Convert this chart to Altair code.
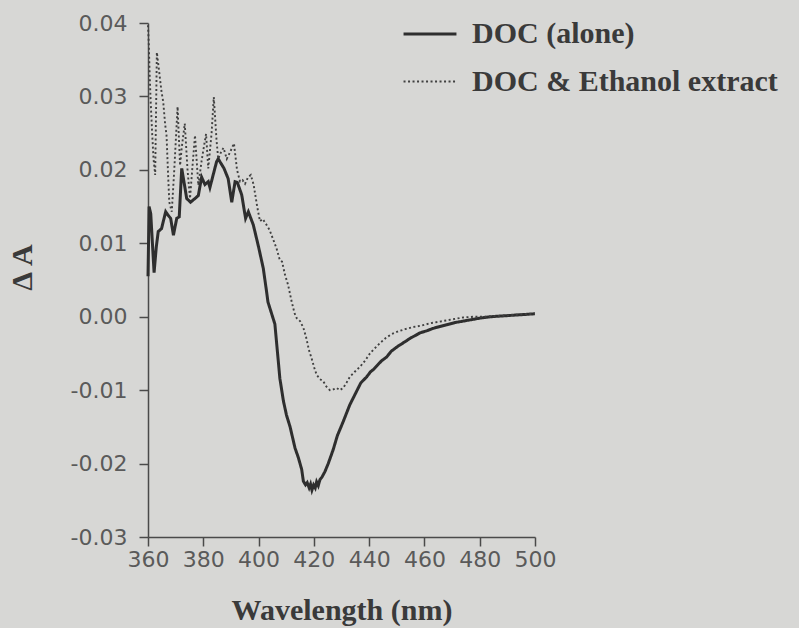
import altair as alt
import pandas as pd

# Difference absorbance spectra, wavelength in nm
series_names = ["DOC (alone)", "DOC & Ethanol extract"]

doc_wl = [360.0, 360.4, 361.0, 361.6, 362.2, 363.0, 363.7, 364.9, 366.4, 367.3,
          368.2, 369.2, 370.4, 371.3, 372.2, 373.0, 374.0, 375.4, 377.0, 378.2,
          379.4, 380.6, 381.8, 382.4, 384.8, 385.4, 387.5, 389.0, 390.3, 391.5,
          392.3, 393.9, 395.3, 396.3, 398.1, 400.0, 401.7, 402.9, 403.4, 405.9,
          407.0, 407.7, 409.0, 410.1, 411.4, 413.2, 414.4, 415.6, 416.2, 417.0,
          417.6, 418.3, 418.8, 419.3, 419.9, 420.5, 421.0, 421.6, 422.2, 423.0,
          424.0, 425.2, 427.0, 428.5, 430.6, 433.0, 435.0, 437.0, 439.1, 440.5,
          441.5, 443.0, 444.5, 446.3, 448.0, 450.5, 453.0, 455.0, 456.5, 458.4,
          461.0, 463.0, 465.0, 468.0, 471.0, 474.0, 477.0, 480.0, 484.0, 488.0,
          492.0, 496.0, 500.0]
doc_da = [0.0055, 0.0150, 0.0140, 0.0100, 0.0060, 0.0095, 0.0116, 0.0120, 0.0143, 0.0138,
          0.0134, 0.0111, 0.0134, 0.0136, 0.0202, 0.0184, 0.0161, 0.0156, 0.0161, 0.0165,
          0.0190, 0.0180, 0.0184, 0.0176, 0.0211, 0.0215, 0.0202, 0.0188, 0.0156, 0.0184,
          0.0183, 0.0166, 0.0134, 0.0143, 0.0125, 0.0095, 0.0066, 0.0034, 0.0020, -0.0010,
          -0.0055, -0.0084, -0.0115, -0.0134, -0.0150, -0.0179, -0.0192, -0.0208, -0.0224, -0.0229,
          -0.0226, -0.0233, -0.0228, -0.0236, -0.0229, -0.0233, -0.0225, -0.0230, -0.0222, -0.0218,
          -0.0211, -0.0200, -0.0181, -0.0162, -0.0143, -0.0120, -0.0105, -0.0090, -0.0082, -0.0075,
          -0.0072, -0.0066, -0.0060, -0.0055, -0.0047, -0.0040, -0.0034, -0.0029, -0.0026, -0.0022,
          -0.0019, -0.0016, -0.0014, -0.0011, -0.0008, -0.0006, -0.0004, -0.0002, 0.0000, 0.0001,
          0.0002, 0.0003, 0.0004]

eth_wl = [360.0, 360.3, 360.6, 361.0, 361.5, 362.0, 362.6, 363.2, 364.0, 364.9,
          365.5, 366.2, 366.7, 367.2, 367.7, 368.6, 369.5, 370.7, 371.6, 372.2,
          373.3, 374.3, 375.2, 376.2, 377.0, 378.2, 379.5, 381.0, 381.8, 383.0,
          383.8, 384.8, 385.4, 386.5, 387.3, 388.5, 389.8, 391.1, 392.2, 393.3,
          394.2, 395.1, 396.2, 397.2, 398.2, 399.5, 400.5, 401.5, 402.9, 404.0,
          405.3, 406.5, 407.7, 408.5, 409.5, 410.7, 412.0, 413.0, 413.8, 415.0,
          416.2, 417.2, 418.2, 419.2, 420.2, 421.0, 422.2, 423.4, 424.5, 425.8,
          427.0, 428.2, 429.4, 430.6, 431.8, 433.0, 434.8, 436.7, 438.5, 440.3,
          441.5, 443.9, 446.0, 448.0, 450.5, 453.0, 456.0, 459.0, 462.0, 465.0,
          468.0, 471.0, 474.0, 478.0, 482.0, 486.0, 490.0, 494.0, 500.0]
eth_da = [0.0397, 0.0370, 0.0330, 0.0290, 0.0250, 0.0215, 0.0193, 0.0360, 0.0335, 0.0306,
          0.0293, 0.0262, 0.0247, 0.0200, 0.0156, 0.0143, 0.0200, 0.0286, 0.0206, 0.0230,
          0.0263, 0.0200, 0.0161, 0.0210, 0.0247, 0.0179, 0.0215, 0.0249, 0.0202, 0.0250,
          0.0299, 0.0240, 0.0215, 0.0225, 0.0230, 0.0215, 0.0225, 0.0236, 0.0200, 0.0184,
          0.0186, 0.0181, 0.0190, 0.0193, 0.0180, 0.0150, 0.0130, 0.0133, 0.0125, 0.0118,
          0.0105, 0.0093, 0.0077, 0.0075, 0.0058, 0.0043, 0.0020, 0.0005, -0.0002, -0.0006,
          -0.0015, -0.0028, -0.0045, -0.0057, -0.0070, -0.0079, -0.0085, -0.0088, -0.0095, -0.0100,
          -0.0099, -0.0097, -0.0100, -0.0097, -0.0090, -0.0082, -0.0075, -0.0068, -0.0060, -0.0050,
          -0.0045, -0.0036, -0.0029, -0.0024, -0.0020, -0.0017, -0.0014, -0.0012, -0.0009, -0.0007,
          -0.0005, -0.0003, -0.0001, 0.0000, 0.0000, 0.0001, 0.0002, 0.0003, 0.0004]

x_ticks = [360, 380, 400, 420, 440, 460, 480, 500]
y_ticks = [-0.03, -0.02, -0.01, 0.00, 0.01, 0.02, 0.03, 0.04]

df = pd.concat([
    pd.DataFrame({"wl": doc_wl, "dA": doc_da, "series": series_names[0]}),
    pd.DataFrame({"wl": eth_wl, "dA": eth_da, "series": series_names[1]}),
])

legend = alt.Legend(
    title=None, orient="none", legendX=254, legendY=-17,
    symbolType="stroke", symbolSize=2800, symbolStrokeColor="#333333",
    labelFont="Liberation Serif", labelFontWeight="bold", labelFontSize=30,
    labelColor="#3a3a3a", labelOffset=14, rowPadding=5, labelLimit=420,
)

chart = alt.Chart(df).mark_line(interpolate="linear").encode(
    x=alt.X("wl:Q", scale=alt.Scale(domain=[360, 500], nice=False, zero=False),
            axis=alt.Axis(values=x_ticks, title="Wavelength (nm)", format="d",
                          labelOverlap=False, labelFlush=False,
                          titleY=73, titleBaseline="middle")),
    y=alt.Y("dA:Q", scale=alt.Scale(domain=[-0.03, 0.04], nice=False, zero=False),
            axis=alt.Axis(values=y_ticks, format=".2f", title="\u0394 A",
                          labelExpr="replace(format(datum.value, '.2f'), '\u2212', '-')",
                          labelOverlap=False, labelFlush=False,
                          titleX=-126, titleY=244, titleAngle=-90,
                          titleBaseline="middle", titleAlign="center")),
    color=alt.Color("series:N", scale=alt.Scale(domain=series_names, range=["#2e2e2e", "#404040"]),
                    legend=legend),
    strokeDash=alt.StrokeDash("series:N", scale=alt.Scale(domain=series_names, range=[[1, 0], [2, 2.5]]),
                              legend=legend),
    strokeWidth=alt.StrokeWidth("series:N", scale=alt.Scale(domain=series_names, range=[3, 1.9]),
                                legend=legend),
    order="wl:Q",
).properties(
    width=387, height=514,
    autosize=alt.AutoSizeParams(type="none"),
    padding={"left": 148, "top": 23, "right": 264, "bottom": 91},
    background="#d7d7d5",
).configure_view(
    stroke=None,
).configure_axis(
    grid=False,
    domainColor="#4a4a4a", domainWidth=1.5,
    tickColor="#4a4a4a", tickWidth=1.5, tickSize=9,
    labelFont="DejaVu Sans", labelFontSize=22, labelColor="#5a5a5a", labelPadding=3,
    titleFont="Liberation Serif", titleFontWeight="bold", titleFontSize=30, titleColor="#3a3a3a",
).configure_axisY(
    labelPadding=12,
)

chart.save("out.html", embed_options={"renderer": "svg", "actions": False})
